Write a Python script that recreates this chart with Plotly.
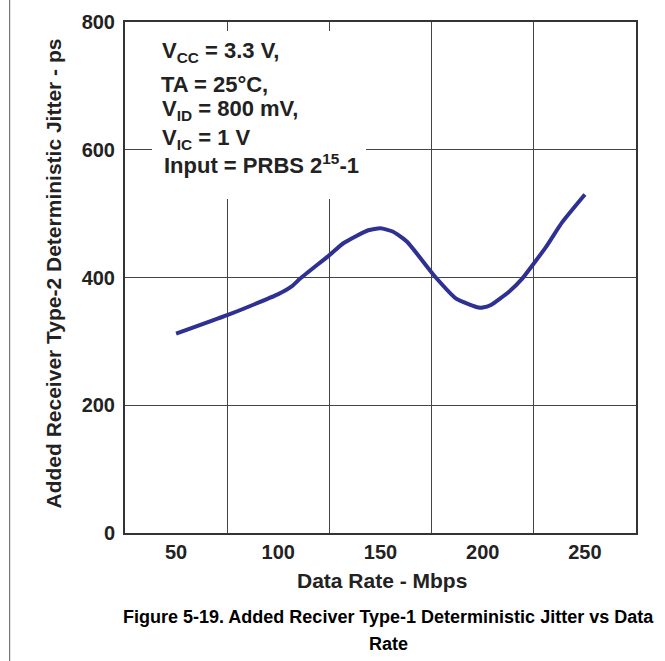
import plotly.graph_objects as go

# Data
data_rate = [50, 75, 86, 100, 106.5, 110.6, 125, 132, 144, 150, 156, 163,
             176, 187, 198, 200, 204, 213, 219, 225, 231, 239, 250]
jitter = [312, 341, 355, 374, 386, 398, 435, 454, 474, 477, 472, 456,
          404, 367, 353, 353, 357, 378, 397, 422, 448, 487, 530]
x_ticks = [50, 100, 150, 200, 250]
y_ticks = [0, 200, 400, 600, 800]
x_grid = [75, 125, 175, 225]
note_lines = ["V<sub>CC</sub> = 3.3 V,", "TA = 25°C,", "V<sub>ID</sub> = 800 mV,",
              "V<sub>IC</sub> = 1 V", "Input = PRBS 2<sup>15</sup>-1"]
x_title = "Data Rate - Mbps"
y_title = "Added Receiver Type-2 Deterministic Jitter - ps"
caption_lines = ["Figure 5-19. Added Reciver Type-1 Deterministic Jitter vs Data", "Rate"]

W, H = 665, 661
L, R, T, B = 125, 29, 22, 128
PW, PH = W - L - R, H - T - B

def px(xp):
    return (xp - L) / PW

def py(yp):
    return (H - B - yp) / PH

FONT = "Liberation Sans, Arial, sans-serif"
DARK = "#222222"

fig = go.Figure()
fig.add_trace(go.Scatter(x=data_rate, y=jitter, mode="lines",
                         line=dict(color="#2e3192", width=4, shape="spline", smoothing=0.5),
                         showlegend=False, hoverinfo="skip"))

fig.update_layout(
    width=W, height=H,
    margin=dict(l=L, r=R, t=T, b=B),
    paper_bgcolor="white", plot_bgcolor="white",
    showlegend=False,
    font=dict(family=FONT, color=DARK),
)
fig.update_xaxes(range=[25, 275], tickvals=x_ticks, showgrid=False, zeroline=False,
                 showline=True, linecolor="#333333", linewidth=2, mirror=True,
                 ticks="", ticklabelstandoff=0,
                 tickfont=dict(family=FONT, size=20, color=DARK, weight="bold"),
                 minor=dict(tickvals=x_grid, showgrid=True, gridcolor="#444444", gridwidth=1, ticks=""))
fig.update_yaxes(range=[0, 800], tickvals=y_ticks, showgrid=True, gridcolor="#444444", gridwidth=1,
                 zeroline=False, showline=True, linecolor="#333333", linewidth=2, mirror=True,
                 ticks="", ticklabelstandoff=4,
                 tickfont=dict(family=FONT, size=20, color=DARK, weight="bold"))

shapes = [
    dict(type="rect", xref="paper", yref="paper", x0=px(152), x1=px(366), y0=py(199), y1=py(31),
         fillcolor="white", line=dict(width=0), layer="above"),
    dict(type="rect", xref="paper", yref="paper", x0=px(9), x1=px(10.2), y0=py(H), y1=py(0),
         fillcolor="#777777", line=dict(width=0), layer="above"),
]
fig.update_layout(shapes=shapes)

centers = [52.5, 84, 110.5, 138.5, 164]
lefts = [160, 159, 160, 160, 162]
anns = []
for txt, yc, xl in zip(note_lines, centers, lefts):
    anns.append(dict(text=txt, xref="paper", yref="paper", x=px(xl), y=py(yc),
                     xanchor="left", yanchor="middle", showarrow=False,
                     font=dict(family=FONT, size=22, color=DARK, weight="bold")))
anns.append(dict(text=x_title, xref="paper", yref="paper", x=px(382), y=py(580),
                 xanchor="center", yanchor="middle", showarrow=False,
                 font=dict(family=FONT, size=21, color=DARK, weight="bold")))
anns.append(dict(text=y_title, xref="paper", yref="paper", x=px(53), y=py(273.5),
                 xanchor="center", yanchor="middle", textangle=-90, showarrow=False,
                 font=dict(family=FONT, size=21, color=DARK, weight="bold")))
for txt, yc in zip(caption_lines, [617, 644]):
    anns.append(dict(text=txt, xref="paper", yref="paper", x=px(388), y=py(yc),
                     xanchor="center", yanchor="middle", showarrow=False,
                     font=dict(family=FONT, size=18, color="#000000", weight="bold")))
fig.update_layout(annotations=anns)

fig.write_html("out.html")
